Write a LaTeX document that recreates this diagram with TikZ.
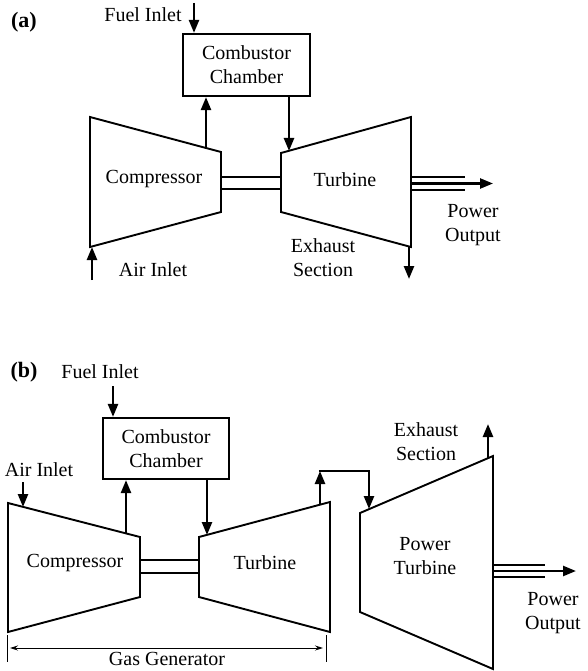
\documentclass[tikz,border=0pt]{standalone}
\usepackage{fontspec}
\setmainfont{Liberation Serif}
\usetikzlibrary{arrows.meta}

\begin{document}
\begin{tikzpicture}[
  x=1pt,y=-1pt,line join=miter,  unit/.style={draw,line width=1.9pt},  flow/.style={line width=2.4pt,-{Triangle[length=13pt,width=10pt]}},  shaft/.style={line width=2.6pt},  combbox/.style={draw,line width=2.2pt,align=center,inner sep=0pt,font=\fontsize{20}{24}\selectfont},  txt/.style={align=center,inner sep=0pt,font=\fontsize{20}{24}\selectfont},  tag/.style={inner sep=0pt,font=\fontsize{22}{24}\selectfont\bfseries},  dim/.style={line width=0.9pt}
]
  \useasboundingbox (0,0) rectangle (587,671);
  \node[tag] (taga) at (24,22) {(a)};
  \node[txt] (fuela) at (143,15) {Fuel Inlet};
  \node[combbox,minimum width=127pt,minimum height=62pt] (comba) at (246.5,65) {Combustor\\Chamber};
  \coordinate (c1) at (90,117);
  \coordinate (c2) at (221,152);
  \coordinate (c3) at (221,212);
  \coordinate (c4) at (90,247);
  \coordinate (t1) at (281,153);
  \coordinate (t2) at (411,117);
  \coordinate (t3) at (411,247);
  \coordinate (t4) at (281,212);
  \draw[unit] (c1) -- (c2) -- (c3) -- (c4) -- cycle;
  \draw[unit] (t1) -- (t2) -- (t3) -- (t4) -- cycle;
  \node[txt] (compa) at (154,179) {Compressor};
  \node[txt] (turba) at (345,180) {Turbine};
  \coordinate (fuelatop) at (194,3);
  \coordinate (compaout) at (206,148);
  \coordinate (turbain) at (289,151);
  \coordinate (airabot) at (92,280);
  \coordinate (airatop) at (92,247);
  \coordinate (exhatop) at (409,247);
  \coordinate (exhabot) at (409,279);
  \draw[flow] (fuelatop) -- (fuelatop |- comba.north);
  \draw[flow] (compaout) -- (compaout |- comba.south);
  \draw[flow] (turbain |- comba.south) -- (turbain);
  \draw[flow] (airabot) -- (airatop);
  \draw[flow] (exhatop) -- (exhabot);
  \coordinate (sha1) at (221,177);
  \coordinate (sha2) at (281,177);
  \coordinate (sha3) at (221,189);
  \coordinate (sha4) at (281,189);
  \draw[shaft] (sha1) -- (sha2);
  \draw[shaft] (sha3) -- (sha4);
  \coordinate (poa1) at (411,177);
  \coordinate (poa2) at (465,177);
  \coordinate (poa3) at (411,190);
  \coordinate (poa4) at (465,190);
  \coordinate (poa5) at (411,183.5);
  \coordinate (poa6) at (493,183.5);
  \draw[shaft] (poa1) -- (poa2);
  \draw[shaft] (poa3) -- (poa4);
  \draw[flow] (poa5) -- (poa6);
  \node[txt] (powa) at (473,225) {Power\\Output};
  \node[txt] (exha) at (323,258) {Exhaust\\Section};
  \node[txt] (aira) at (153,270) {Air Inlet};
  \node[tag] (tagb) at (24,372) {(b)};
  \node[txt] (fuelb) at (100,372) {Fuel Inlet};
  \node[combbox,minimum width=126pt,minimum height=61pt] (combb) at (166,448.5) {Combustor\\Chamber};
  \node[txt] (airb) at (39,470) {Air Inlet};
  \coordinate (d1) at (8,503);
  \coordinate (d2) at (140,537);
  \coordinate (d3) at (140,597);
  \coordinate (d4) at (8,632);
  \coordinate (u1) at (199,537);
  \coordinate (u2) at (330,502);
  \coordinate (u3) at (330,632);
  \coordinate (u4) at (199,597);
  \coordinate (p1) at (360,513);
  \coordinate (p2) at (493,456);
  \coordinate (p3) at (493,669);
  \coordinate (p4) at (360,612);
  \draw[unit] (d1) -- (d2) -- (d3) -- (d4) -- cycle;
  \draw[unit] (u1) -- (u2) -- (u3) -- (u4) -- cycle;
  \draw[unit] (p1) -- (p2) -- (p3) -- (p4) -- cycle;
  \node[txt] (compb) at (75,563) {Compressor};
  \node[txt] (turbb) at (265,563) {Turbine};
  \node[txt] (ptb) at (425,556) {Power\\Turbine};
  \coordinate (fuelbtop) at (113,386);
  \coordinate (compbout) at (126,533);
  \coordinate (turbbin) at (207,535);
  \coordinate (airbtop) at (23,482);
  \coordinate (airbbot) at (23,507);
  \coordinate (turbbout) at (320,505);
  \coordinate (joint) at (320,471);
  \coordinate (ptbin) at (369,509);
  \coordinate (exhbbot) at (488,458);
  \coordinate (exhbtop) at (488,424);
  \draw[flow] (fuelbtop) -- (fuelbtop |- combb.north);
  \draw[flow] (compbout) -- (compbout |- combb.south);
  \draw[flow] (turbbin |- combb.south) -- (turbbin);
  \draw[flow] (airbtop) -- (airbbot);
  \draw[flow] (turbbout) -- (joint);
  \draw[flow] ([xshift=-1.2pt]joint) -| (ptbin);
  \draw[flow] (exhbbot) -- (exhbtop);
  \coordinate (shb1) at (140,560);
  \coordinate (shb2) at (199,560);
  \coordinate (shb3) at (140,573);
  \coordinate (shb4) at (199,573);
  \draw[shaft] (shb1) -- (shb2);
  \draw[shaft] (shb3) -- (shb4);
  \coordinate (pob1) at (493,565);
  \coordinate (pob2) at (545,565);
  \coordinate (pob3) at (493,577);
  \coordinate (pob4) at (545,577);
  \coordinate (pob5) at (493,571);
  \coordinate (pob6) at (576,571);
  \draw[shaft] (pob1) -- (pob2);
  \draw[shaft] (pob3) -- (pob4);
  \draw[flow] (pob5) -- (pob6);
  \node[txt] (exhb) at (426,442) {Exhaust\\Section};
  \node[txt] (powb) at (553,613) {Power\\Output};
  \coordinate (gg1) at (7,635);
  \coordinate (gg2) at (7,662);
  \coordinate (gg3) at (326,635);
  \coordinate (gg4) at (326,662);
  \coordinate (gg5) at (7,648);
  \coordinate (gg6) at (326,648);
  \draw[dim] (gg1) -- (gg2);
  \draw[dim] (gg3) -- (gg4);
  \draw[dim,{Stealth[length=8pt,width=5pt]}-{Stealth[length=8pt,width=5pt]}] ([xshift=3pt]gg5) -- ([xshift=-3pt]gg6);
  \node[txt] (gasgen) at (167,659) {Gas Generator};
\end{tikzpicture}
\end{document}
